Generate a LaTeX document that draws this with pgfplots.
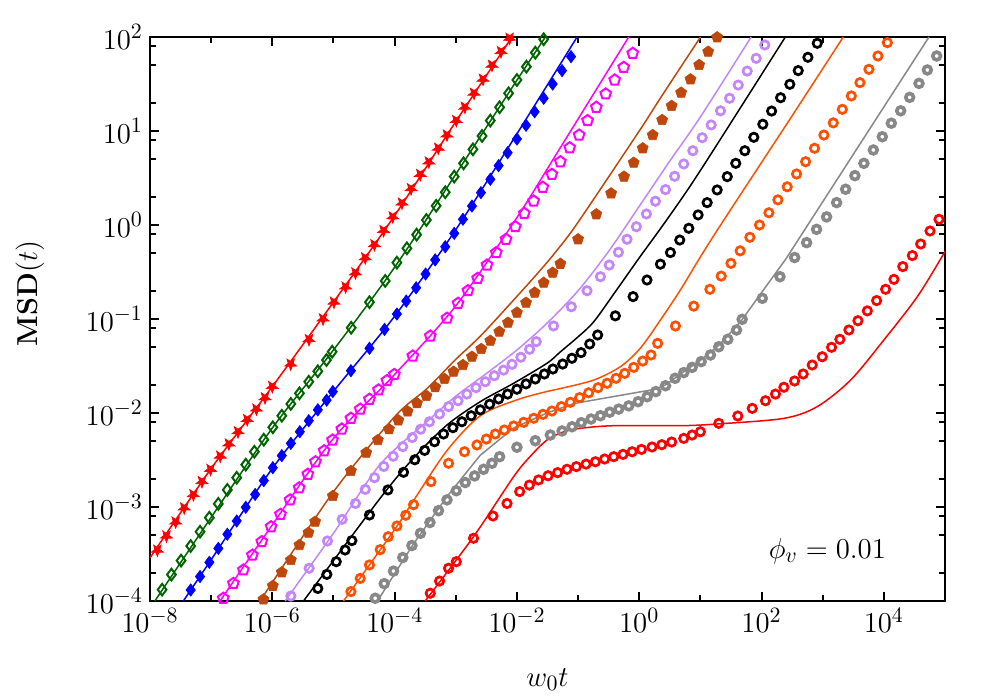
\documentclass[border=0pt]{standalone}
\usepackage{pgfplots}
\pgfplotsset{compat=1.18}
\definecolor{cgreen}{RGB}{0,100,0}
\definecolor{cbrown}{RGB}{190,72,12}
\definecolor{cpurple}{RGB}{195,135,250}
\definecolor{corange}{RGB}{255,80,0}
\definecolor{cgrey}{RGB}{136,136,136}
\definecolor{cmag}{RGB}{255,0,255}
\pgfdeclareplotmark{fstar}{%
  \pgfpathmoveto{\pgfpointpolar{270}{\pgfplotmarksize}}%
  \pgfpathlineto{\pgfpointpolar{306}{0.42\pgfplotmarksize}}%
  \pgfpathlineto{\pgfpointpolar{342}{\pgfplotmarksize}}%
  \pgfpathlineto{\pgfpointpolar{18}{0.42\pgfplotmarksize}}%
  \pgfpathlineto{\pgfpointpolar{54}{\pgfplotmarksize}}%
  \pgfpathlineto{\pgfpointpolar{90}{0.42\pgfplotmarksize}}%
  \pgfpathlineto{\pgfpointpolar{126}{\pgfplotmarksize}}%
  \pgfpathlineto{\pgfpointpolar{162}{0.42\pgfplotmarksize}}%
  \pgfpathlineto{\pgfpointpolar{198}{\pgfplotmarksize}}%
  \pgfpathlineto{\pgfpointpolar{234}{0.42\pgfplotmarksize}}%
  \pgfpathclose
  \pgfusepathqfillstroke}
\begin{document}
\begin{tikzpicture}
\useasboundingbox (-75pt,-49.5pt) rectangle (425pt,300.5pt);
\begin{axis}[
  scale only axis, width=397.5pt, height=282pt,
  xmode=log, ymode=log,
  xmin=1e-8, xmax=1e5, ymin=1e-4, ymax=1e2,
  axis line style={line width=1.4pt},
  tick style={line width=1pt, black},
  major tick length=4.5pt, minor tick length=2.8pt,
  tick align=inside,
  xtick={1e-8,1e-6,1e-4,1e-2,1,1e2,1e4},
  minor xtick={1e-7,1e-5,1e-3,1e-1,1e1,1e3,1e5},
  ytick={1e-4,1e-3,1e-2,1e-1,1,1e1,1e2},
  minor ytick={2e-4,5e-4,8e-4,2e-3,5e-3,8e-3,2e-2,5e-2,8e-2,2e-1,5e-1,8e-1,2,5,8,20,50,80},
  tick label style={font=\fontsize{15}{18}\selectfont},
  xlabel={$w_0t$}, ylabel={$\mathbf{MSD}(t)$},
  label style={font=\fontsize{15.5}{18}\selectfont},
  xlabel style={at={(axis description cs:0.5,-0.14)}, anchor=center},
  ylabel style={at={(axis description cs:-0.151,0.545)}, anchor=center, rotate=0},
  clip=true,
]
% ---------- theory lines ----------
\addplot[red, line width=0.75pt, smooth] coordinates {(1e-8,2.88e-4)(1e-7,2.57e-3)(1e-6,1.91e-2)(1e-5,1.51e-1)(1e-4,1.26)(1e-3,12.6)(8.32e-3,100)};
\addplot[cgreen, line width=0.75pt, smooth] coordinates {(1.20e-8,1e-4)(1e-7,7.76e-4)(1e-6,6.92e-3)(1e-5,4.68e-2)(1e-4,3.55e-1)(1e-3,3.47)(1e-2,34.7)(2.92e-2,100)};
\addplot[blue, line width=0.75pt, smooth] coordinates {(3.51e-8,1e-4)(1e-7,2.75e-4)(1e-6,2.57e-3)(1e-5,1.70e-2)(1e-4,1.07e-1)(1e-3,8.91e-1)(1e-2,9.33)(9.64e-2,100)};
\addplot[cmag, line width=0.75pt, smooth] coordinates {(1.40e-7,1e-4)(1e-6,6.46e-4)(1e-5,5.37e-3)(1e-4,2.57e-2)(1e-3,1.38e-1)(1e-2,1.20)(4.47e-2,5.75)(6.73e-1,100)};
\addplot[cbrown, line width=0.75pt, smooth] coordinates {(6.31e-7,1e-4)(1e-5,1.45e-3)(1e-4,9.12e-3)(3.39e-4,1.82e-2)(1e-3,3.72e-2)(2.63e-3,6.76e-2)(1e-2,1.74e-1)(2.42e-2,3.31e-1)(4.51e-2,5.37e-1)(1e-1,1.07)(1,10)(2.22,22.4)(10.05,100)};
\addplot[cpurple, line width=0.75pt, smooth] coordinates {(1.62e-6,1e-4)(1e-5,5.25e-4)(5.75e-5,2.82e-3)(3.55e-4,8.32e-3)(1e-3,1.51e-2)(3.16e-3,2.63e-2)(1e-2,4.68e-2)(3.16e-2,9.12e-2)(1e-1,2.00e-1)(3.16e-1,5.25e-1)(1,1.58)(3.16,4.79)(10,14.1)(67.6,100)};
\addplot[black, line width=0.75pt, smooth] coordinates {(3.24e-6,1e-4)(5.81e-5,1.24e-3)(2.04e-4,3.31e-3)(7.18e-4,7.45e-3)(2.52e-3,1.32e-2)(8.83e-3,2.07e-2)(3.10e-2,3.38e-2)(5.13e-2,4.47e-2)(1e-1,6.46e-2)(1.80e-1,9.33e-2)(3.98e-1,1.91e-1)(1,4.47e-1)(2.86,1.15)(10,3.80)(245,100)};
\addplot[corange, line width=0.75pt, smooth] coordinates {(1.46e-5,1e-4)(1e-4,5.75e-4)(2.04e-4,1.17e-3)(7.18e-4,3.98e-3)(2.51e-3,9.33e-3)(1e-2,1.38e-2)(3.16e-2,1.70e-2)(5.13e-2,1.82e-2)(1.80e-1,2.24e-2)(4.92e-1,3.11e-2)(1.04,4.88e-2)(2.22,9.75e-2)(4.72,2.04e-1)(10.05,4.60e-1)(24.2,1.13)(316,14.5)(2168,100)};
\addplot[cgrey, line width=0.75pt] coordinates {(5.25e-5,1e-4)(2.00e-4,3.98e-4)(7.18e-4,1.29e-3)(2.51e-3,3.55e-3)(8.83e-3,6.92e-3)(3.10e-2,1.00e-2)(8.51e-2,1.26e-2)(1.74,1.78e-2)(2.69,1.99e-2)(5.37,2.75e-2)(10,3.63e-2)(20,5.25e-2)(45.3,9.33e-2)(100,1.91e-1)(251,4.37e-1)(54700,100)};
\addplot[red, line width=0.75pt, smooth] coordinates {(3.16e-4,1e-4)(1.95e-3,4.83e-4)(8.83e-3,2.10e-3)(1.66e-2,3.47e-3)(3.10e-2,5.16e-3)(5.82e-2,6.31e-3)(1.09e-1,6.87e-3)(3.83e-1,7.33e-3)(4.72,7.33e-3)(18.8,7.64e-3)(232,8.77e-3)(815,1.17e-2)(2858,2.24e-2)(10000,5.98e-2)(35320,1.73e-1)(96400,5.00e-1)(1e5,5.2e-1)};
% ---------- simulation points ----------
\addplot[only marks, red, mark=fstar, mark size=3.1pt, mark options={line width=0.4pt, fill=red}] coordinates {
(1.32e-8,3.47e-4)(1.86e-8,4.90e-4)(2.63e-8,6.92e-4)(3.63e-8,9.77e-4)(5.13e-8,1.35e-3)(7.08e-8,1.86e-3)(9.77e-8,2.51e-3)(1.41e-7,3.47e-3)(1.95e-7,4.68e-3)(2.75e-7,6.31e-3)(3.89e-7,8.51e-3)(5.50e-7,1.10e-2)(7.59e-7,1.45e-2)(1.00e-6,1.91e-2)(2.00e-6,3.31e-2)(3.98e-6,6.03e-2)(6.76e-6,1.00e-1)(1.02e-5,1.51e-1)(1.58e-5,2.19e-1)(2.29e-5,3.09e-1)(3.31e-5,4.47e-1)(4.68e-5,6.17e-1)(6.61e-5,8.71e-1)(9.33e-5,1.22)(1.32e-4,1.71)(1.86e-4,2.43)(2.63e-4,3.44)(3.63e-4,4.68)(5.18e-4,6.55)(7.18e-4,9.06)(1.02e-3,12.9)(1.41e-3,17.9)(1.99e-3,25.2)(2.79e-3,35.5)(3.92e-3,50.0)(5.50e-3,69.8)(7.60e-3,96.8)};
\addplot[only marks, cgreen, mark=diamond, mark size=2.9pt, mark options={line width=1pt}] coordinates {
(1.58e-8,1.32e-4)(2.24e-8,1.91e-4)(3.22e-8,2.69e-4)(4.63e-8,3.85e-4)(6.58e-8,5.46e-4)(9.35e-8,7.69e-4)(1.31e-7,1.08e-3)(1.84e-7,1.52e-3)(2.62e-7,2.05e-3)(3.68e-7,2.82e-3)(5.09e-7,3.87e-3)(7.26e-7,5.20e-3)(1.02e-6,7.05e-3)(1.43e-6,9.35e-3)(2.01e-6,1.25e-2)(2.78e-6,1.62e-2)(3.95e-6,2.15e-2)(5.55e-6,2.78e-2)(7.69e-6,3.66e-2)(9.53e-6,4.49e-2)(1.95e-5,8.07e-2)(3.88e-5,1.51e-1)(7.02e-5,2.54e-1)(1.09e-4,3.98e-1)(1.59e-4,5.65e-1)(2.29e-4,7.89e-1)(3.31e-4,1.13)(4.78e-4,1.60)(6.73e-4,2.23)(9.44e-4,3.27)(1.34e-3,4.53)(1.91e-3,6.38)(2.69e-3,8.85)(3.67e-3,12.9)(5.21e-3,17.9)(7.31e-3,25.2)(1.00e-2,34.9)(1.43e-2,48.3)(2.00e-2,68.1)(2.74e-2,94.6)};
\addplot[only marks, blue, mark=diamond*, mark size=3.1pt, mark options={line width=0.3pt, fill=blue}] coordinates {
(4.63e-8,1.31e-4)(6.58e-8,1.82e-4)(9.35e-8,2.58e-4)(1.31e-7,3.63e-4)(1.84e-7,5.13e-4)(2.62e-7,7.10e-4)(3.68e-7,9.93e-4)(5.24e-7,1.36e-3)(7.26e-7,1.91e-3)(1.02e-6,2.62e-3)(1.43e-6,3.52e-3)(2.01e-6,4.75e-3)(2.82e-6,6.32e-3)(3.95e-6,8.28e-3)(5.55e-6,1.08e-2)(7.74e-6,1.37e-2)(9.77e-6,1.69e-2)(1.93e-5,2.82e-2)(3.88e-5,4.88e-2)(6.84e-5,7.76e-2)(1.09e-4,1.13e-1)(1.55e-4,1.55e-1)(2.25e-4,2.15e-1)(3.21e-4,3.01e-1)(4.61e-4,4.25e-1)(6.73e-4,5.87e-1)(9.44e-4,8.15e-1)(1.31e-3,1.15)(1.84e-3,1.59)(2.58e-3,2.21)(3.67e-3,3.06)(5.02e-3,4.28)(7.05e-3,5.87)(1.00e-2,8.22)(1.41e-2,11.5)(1.95e-2,16.0)(2.74e-2,22.3)(3.84e-2,31.6)(5.47e-2,43.9)(7.67e-2,61.8)};
\addplot[only marks, cmag, mark=pentagon, mark size=2.8pt, mark options={line width=1pt}] coordinates {
(1.58e-7,1.07e-4)(2.31e-7,1.54e-4)(3.37e-7,2.14e-4)(4.72e-7,3.08e-4)(6.73e-7,4.28e-4)(9.55e-7,6.17e-4)(1.36e-6,8.36e-4)(1.95e-6,1.19e-3)(2.75e-6,1.60e-3)(3.81e-6,2.23e-3)(5.08e-6,3.03e-3)(7.05e-6,3.97e-3)(9.64e-6,5.16e-3)(1.37e-5,6.76e-3)(1.93e-5,8.79e-3)(2.74e-5,1.10e-2)(3.88e-5,1.40e-2)(5.45e-5,1.76e-2)(7.48e-5,2.21e-2)(9.89e-5,2.57e-2)(1.98e-4,4.04e-2)(3.83e-4,6.59e-2)(7.18e-4,1.02e-1)(1.09e-3,1.47e-1)(1.58e-3,2.00e-1)(2.28e-3,2.71e-1)(3.24e-3,3.75e-1)(4.60e-3,5.09e-1)(6.64e-3,7.05e-1)(9.42e-3,9.59e-1)(1.32e-2,1.33)(1.88e-2,1.80)(2.65e-2,2.52)(3.73e-2,3.46)(5.13e-2,4.71)(7.29e-2,6.64)(1.04e-1,9.06)(1.43e-1,12.9)(1.99e-1,17.9)(2.83e-1,24.8)(3.97e-1,34.9)(5.57e-1,47.6)(7.83e-1,67.1)};
\addplot[only marks, cbrown, mark=pentagon*, mark size=2.9pt, mark options={line width=0.3pt, fill=cbrown}] coordinates {
(7.16e-7,1.04e-4)(1.02e-6,1.45e-4)(1.43e-6,2.02e-4)(2.01e-6,2.73e-4)(2.78e-6,3.94e-4)(3.90e-6,5.33e-4)(5.01e-6,6.98e-4)(9.77e-6,1.31e-3)(1.93e-5,2.42e-3)(3.43e-5,3.78e-3)(5.33e-5,5.16e-3)(8.09e-5,6.73e-3)(1.15e-4,8.36e-3)(1.63e-4,1.04e-2)(2.32e-4,1.27e-2)(3.31e-4,1.52e-2)(4.61e-4,1.88e-2)(6.55e-4,2.30e-2)(9.20e-4,2.75e-2)(1.31e-3,3.24e-2)(1.84e-3,3.97e-2)(2.61e-3,4.80e-2)(3.67e-3,5.87e-2)(5.15e-3,7.33e-2)(7.14e-3,9.14e-2)(1.00e-2,1.17e-1)(1.41e-2,1.49e-1)(1.95e-2,1.91e-1)(2.74e-2,2.43e-1)(3.84e-2,3.11e-1)(5.13e-2,3.87e-1)(1.00e-1,7.05e-1)(1.99e-1,1.30)(3.47e-1,2.17)(5.64e-1,3.27)(8.13e-1,4.60)(1.14,6.55)(1.66,9.06)(2.37,13.1)(3.39,18.5)(4.84,25.6)(6.89,35.5)(9.55,50.4)(13.4,69.8)(18.8,99.3)};
\addplot[only marks, cpurple, mark=o, mark size=2.1pt, mark options={line width=1.35pt}] coordinates {
(2.01e-6,1.13e-4)(4.00e-6,2.23e-4)(7.98e-6,4.35e-4)(1.39e-5,7.40e-4)(2.29e-5,1.09e-3)(3.31e-5,1.54e-3)(4.69e-5,2.05e-3)(6.65e-5,2.70e-3)(9.49e-5,3.47e-3)(1.36e-4,4.39e-3)(1.94e-4,5.48e-3)(2.67e-4,6.73e-3)(3.71e-4,8.07e-3)(5.43e-4,9.75e-3)(7.62e-4,1.17e-2)(1.09e-3,1.35e-2)(1.52e-3,1.59e-2)(2.14e-3,1.86e-2)(3.04e-3,2.15e-2)(4.27e-3,2.49e-2)(6.05e-3,2.86e-2)(8.32e-3,3.30e-2)(1.16e-2,3.92e-2)(1.61e-2,4.76e-2)(2.07e-2,5.74e-2)(3.97e-2,8.43e-2)(7.76e-2,1.35e-1)(1.40e-1,2.00e-1)(2.32e-1,2.82e-1)(3.23e-1,3.75e-1)(4.57e-1,5.13e-1)(6.32e-1,7.05e-1)(8.99e-1,9.59e-1)(1.31,1.31)(1.84,1.79)(2.69,2.38)(3.80,3.30)(5.35,4.46)(7.52,6.17)(10.7,8.49)(15.0,11.6)(21.3,16.4)(30.0,22.3)(41.6,30.8)(58.3,43.4)(81.8,59.3)(113,82.2)};
\addplot[only marks, black, mark=o, mark size=2.1pt, mark options={line width=1.35pt}] coordinates {
(4.00e-6,9.84e-5)(5.55e-6,1.36e-4)(7.80e-6,1.92e-4)(1.11e-5,2.62e-4)(1.55e-5,3.49e-4)(2.00e-5,4.39e-4)(3.88e-5,8.22e-4)(7.78e-5,1.52e-3)(1.40e-4,2.34e-3)(2.14e-4,3.18e-3)(3.10e-4,4.00e-3)(4.50e-4,4.95e-3)(6.31e-4,5.98e-3)(8.99e-4,6.98e-3)(1.26e-3,8.07e-3)(1.79e-3,9.35e-3)(2.52e-3,1.08e-2)(3.58e-3,1.24e-2)(5.02e-3,1.41e-2)(7.05e-3,1.59e-2)(1.00e-2,1.79e-2)(1.41e-2,2.04e-2)(2.00e-2,2.30e-2)(2.81e-2,2.60e-2)(3.88e-2,2.94e-2)(5.60e-2,3.32e-2)(7.93e-2,3.82e-2)(1.12e-1,4.39e-2)(1.55e-1,5.42e-2)(2.09e-1,6.76e-2)(4.07e-1,1.08e-1)(7.94e-1,1.73e-1)(1.34,2.60e-1)(2.22,3.83e-1)(3.24,5.09e-1)(4.60,6.92e-1)(6.47,9.23e-1)(9.18,1.28)(12.9,1.73)(18.8,2.36)(27.5,3.27)(37.9,4.53)(53.3,6.17)(74.8,8.57)(105,11.8)(146,16.3)(205,22.6)(290,31.4)(398,43.9)(573,60.8)(815,85.7)};
\addplot[only marks, corange, mark=o, mark size=2.1pt, mark options={line width=1.35pt}] coordinates {
(1.93e-5,1.26e-4)(2.74e-5,1.74e-4)(3.88e-5,2.42e-4)(5.81e-5,3.52e-4)(7.85e-5,4.83e-4)(1.09e-4,6.28e-4)(1.52e-4,8.17e-4)(2.04e-4,1.06e-3)(3.93e-4,1.86e-3)(7.62e-4,2.92e-3)(1.39e-3,3.87e-3)(2.22e-3,4.57e-3)(3.16e-3,5.28e-3)(4.43e-3,5.98e-3)(6.22e-3,6.59e-3)(8.83e-3,7.28e-3)(1.29e-2,7.96e-3)(1.88e-2,8.79e-3)(2.67e-2,9.68e-3)(3.73e-2,1.05e-2)(5.32e-2,1.17e-2)(7.48e-2,1.30e-2)(1.06e-1,1.46e-2)(1.49e-1,1.64e-2)(2.12e-1,1.86e-2)(2.98e-1,2.07e-2)(4.18e-1,2.34e-2)(5.79e-1,2.64e-2)(8.13e-1,3.06e-2)(1.14,3.57e-2)(1.56,4.14e-2)(2.00,5.51e-2)(3.91,8.43e-2)(7.80,1.37e-1)(14.3,2.07e-1)(21.9,2.86e-1)(31.6,3.91e-1)(44.7,5.31e-1)(64.4,7.40e-1)(92.7,1.00)(132,1.35)(185,1.85)(263,2.55)(374,3.49)(525,4.71)(736,6.55)(1047,9.06)(1489,12.2)(2094,17.0)(2938,23.6)(4064,32.7)(5702,45.3)(8000,62.8)(11400,87.1)};
\addplot[only marks, cgrey, mark=o, mark size=1.95pt, mark options={line width=1.8pt}] coordinates {
(4.81e-5,1.07e-4)(6.76e-5,1.53e-4)(9.59e-5,2.08e-4)(1.36e-4,2.90e-4)(1.92e-4,3.89e-4)(2.65e-4,5.25e-4)(3.78e-4,6.84e-4)(5.22e-4,9.14e-4)(7.18e-4,1.19e-3)(1.02e-3,1.49e-3)(1.43e-3,1.82e-3)(2.03e-3,2.14e-3)(2.85e-3,2.52e-3)(3.91e-3,2.92e-3)(5.21e-3,3.43e-3)(1.00e-2,4.32e-3)(2.00e-2,5.07e-3)(3.52e-2,5.83e-3)(5.47e-2,6.44e-3)(7.98e-2,7.14e-3)(1.13e-1,7.89e-3)(1.63e-1,8.63e-3)(2.32e-1,9.35e-3)(3.29e-1,1.02e-2)(4.62e-1,1.10e-2)(6.73e-1,1.19e-2)(9.59e-1,1.32e-2)(1.35,1.49e-2)(1.87,1.69e-2)(2.69,1.95e-2)(3.86,2.34e-2)(5.35,2.69e-2)(7.33,3.06e-2)(10.3,3.52e-2)(14.6,4.14e-2)(20.0,5.07e-2)(28.1,6.08e-2)(39.0,7.64e-2)(48.2,9.93e-2)(103,1.66e-1)(200,2.82e-1)(348,4.51e-1)(546,6.49e-1)(794,8.99e-1)(1159,1.22)(1690,1.73)(2371,2.40)(3365,3.35)(4721,4.53)(6730,6.28)(9441,8.69)(13240,12.1)(18840,16.4)(26420,22.8)(37580,32.1)(51520,44.6)(73110,62.8)};
\addplot[only marks, red, mark=o, mark size=2.1pt, mark options={line width=1.35pt}] coordinates {
(3.83e-4,1.21e-4)(5.43e-4,1.63e-4)(7.62e-4,2.23e-4)(1.02e-3,2.62e-4)(1.95e-3,4.65e-4)(4.06e-3,8.02e-4)(6.89e-3,1.09e-3)(1.11e-2,1.46e-3)(1.60e-2,1.71e-3)(2.26e-2,1.94e-3)(3.23e-2,2.15e-3)(4.63e-2,2.32e-3)(6.59e-2,2.52e-3)(9.38e-2,2.69e-3)(1.35e-1,2.86e-3)(1.92e-1,3.03e-3)(2.72e-1,3.24e-3)(3.83e-1,3.43e-3)(5.43e-1,3.63e-3)(7.66e-1,3.87e-3)(1.09,4.10e-3)(1.62,4.35e-3)(2.34,4.60e-3)(3.39,4.91e-3)(5.35,5.37e-3)(7.33,5.83e-3)(10.0,6.32e-3)(20.0,7.76e-3)(40.9,9.29e-3)(70.5,1.12e-2)(116,1.35e-2)(169,1.59e-2)(232,1.88e-2)(347,2.19e-2)(480,2.60e-2)(675,3.24e-2)(984,3.97e-2)(1396,5.00e-2)(1910,6.08e-2)(2685,7.64e-2)(3767,9.59e-2)(5370,1.22e-1)(7621,1.57e-1)(10690,2.07e-1)(14620,2.64e-1)(20420,3.61e-1)(29240,4.73e-1)(40000,6.28e-1)(56890,8.63e-1)(79800,1.15)};
\node[font=\fontsize{15}{18}\selectfont] at (axis description cs:0.852,0.089) {$\phi_v=0.01$};
\end{axis}
\end{tikzpicture}
\end{document}
